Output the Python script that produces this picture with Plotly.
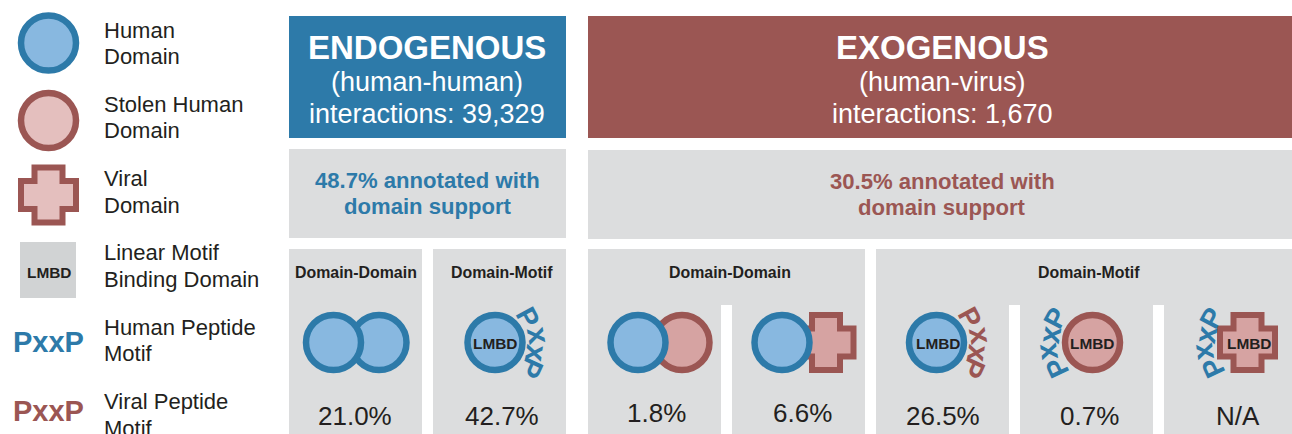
import plotly.graph_objects as go

BLUE = "#2d7aa9"
LIGHT_BLUE = "#88b8e0"
RED = "#9b5653"
PINK = "#e4bfbe"
ROSE = "#d6a3a2"
GRAY = "#dcddde"
DARK = "#231f20"
FONT = "Liberation Sans"

legend_lines = [
    ("Human", "Domain"),
    ("Stolen Human", "Domain"),
    ("Viral", "Domain"),
    ("Linear Motif", "Binding Domain"),
    ("Human Peptide", "Motif"),
    ("Viral Peptide", "Motif"),
]
headers = ["ENDOGENOUS", "EXOGENOUS"]
subheaders = ["(human-human)", "(human-virus)"]
interactions = ["interactions: 39,329", "interactions: 1,670"]
annotated = [("48.7% annotated with", "domain support"), ("30.5% annotated with", "domain support")]
percents = ["21.0%", "42.7%", "1.8%", "6.6%", "26.5%", "0.7%", "N/A"]

shapes = []
notes = []


def rect(x0, y0, x1, y1, color):
    shapes.append(dict(type="rect", x0=x0, y0=y0, x1=x1, y1=y1, fillcolor=color, line_width=0))


def circle(cx, cy, fill, edge):
    shapes.append(dict(type="circle", x0=cx - 27.5, x1=cx + 27.5, y0=cy - 27.5, y1=cy + 27.5,
                       fillcolor=fill, line=dict(color=edge, width=6.5)))


def cross(cx, cy, fill, edge):
    a, b = 27.5, 14
    pts = [(-b, -a), (b, -a), (b, -b), (a, -b), (a, b), (b, b), (b, a), (-b, a), (-b, b), (-a, b), (-a, -b), (-b, -b)]
    path = "M" + " L".join(f"{cx + p[0]},{cy + p[1]}" for p in pts) + " Z"
    shapes.append(dict(type="path", path=path, fillcolor=fill, line=dict(color=edge, width=6)))


def text(x, y, s, size, color=DARK, bold=False, anchor="center", angle=0):
    notes.append(dict(x=x, y=y, text=f"<b>{s}</b>" if bold else s, showarrow=False, xanchor=anchor, yanchor="middle",
                      textangle=angle, font=dict(family=FONT, size=size, color=color)))


def motif(cx, cy, color, side):
    # four letters bent round the domain, top to bottom
    if side == "right":
        letters = [(33, -25, 62, 28), (44, -7, 80, 30), (42, 11, 98, 30), (37, 26, 115, 28)]
    else:
        letters = [(-37, -24, -62, 28), (-43, -7, -80, 30), (-46, 10, -98, 30), (-35, 26, -115, 28)]
    for s, (dx, dy, ang, size) in zip("PxxP", letters):
        text(cx + dx, cy + dy, s, size, color, True, angle=ang)


# panels
rect(289, 16, 566, 138, BLUE)
rect(588, 16, 1292, 138, RED)
rect(289, 149, 566, 238, GRAY)
rect(588, 150, 1292, 239, GRAY)
rect(289, 249, 422, 434, GRAY)
rect(433, 249, 566, 434, GRAY)
rect(588, 249, 865, 434, GRAY)
rect(876, 249, 1292, 434, GRAY)
rect(721, 305, 732, 434, "white")
rect(1009, 305, 1020, 434, "white")
rect(1153, 305, 1164, 434, "white")

# legend
circle(48.5, 43, LIGHT_BLUE, BLUE)
circle(48.5, 120.5, PINK, RED)
cross(48.5, 195, PINK, RED)
rect(20, 242, 76, 298, "#d1d3d4")
text(49, 272, "LMBD", 15.4, bold=True)
text(48.5, 342, "PxxP", 29, BLUE, True)
text(48.5, 411, "PxxP", 29, RED, True)
for i, (a, b) in enumerate(legend_lines):
    top = 30 + i * 74.3
    text(101.5, top, a, 22, anchor="left")
    text(101.5, top + 26.5, b, 22, anchor="left")

# headers
for cx, head, sub, inter in zip([427, 942.5], headers, subheaders, interactions):
    text(cx, 47, head, 33, "white", True)
    text(cx, 82, sub, 27, "white")
    text(cx, 114, inter, 27, "white")
for cx, color, (a, b), off in zip([427.5, 942], [BLUE, RED], annotated, [0, 1]):
    text(cx, 180 + off, a, 22.1, color, True)
    text(cx, 206.5 + off, b, 22.1, color, True)

# row titles
text(356, 272, "Domain-Domain", 15.9, bold=True)
text(502, 272, "Domain-Motif", 15.9, bold=True)
text(730, 272, "Domain-Domain", 15.9, bold=True)
text(1089, 272, "Domain-Motif", 15.9, bold=True)

# glyphs
circle(379, 342.5, LIGHT_BLUE, BLUE)
circle(333.5, 342.5, LIGHT_BLUE, BLUE)
circle(495, 342.5, LIGHT_BLUE, BLUE)
text(495, 343, "LMBD", 15.4, bold=True)
motif(495, 342, BLUE, "right")
circle(682, 342.5, ROSE, RED)
circle(638, 342.5, LIGHT_BLUE, BLUE)
cross(826, 342.5, ROSE, RED)
circle(782, 342.5, LIGHT_BLUE, BLUE)
circle(936.5, 342.5, LIGHT_BLUE, BLUE)
text(938, 343, "LMBD", 15.4, bold=True)
motif(937, 342, RED, "right")
circle(1092.5, 342.5, ROSE, RED)
text(1092, 343, "LMBD", 15.4, bold=True)
motif(1092, 342, BLUE, "left")
cross(1247.5, 342.5, ROSE, RED)
text(1249, 343, "LMBD", 15.4, bold=True)
motif(1248, 342, BLUE, "left")

# percentages
for cx, cy, p in zip([355, 502, 656, 802, 943, 1089, 1238], [416, 416, 413, 413, 416, 416, 416], percents):
    text(cx, cy, p, 26)

fig = go.Figure()
fig.update_layout(
    width=1292, height=434, margin=dict(l=0, r=0, t=0, b=0),
    paper_bgcolor="white", plot_bgcolor="white", showlegend=False,
    xaxis=dict(range=[0, 1292], visible=False, fixedrange=True),
    yaxis=dict(range=[434, 0], visible=False, fixedrange=True),
    shapes=shapes, annotations=notes,
)
fig.write_html("out.html", config=dict(displayModeBar=False),
               post_script="document.body.style.margin='0';document.body.style.overflow='hidden';")
